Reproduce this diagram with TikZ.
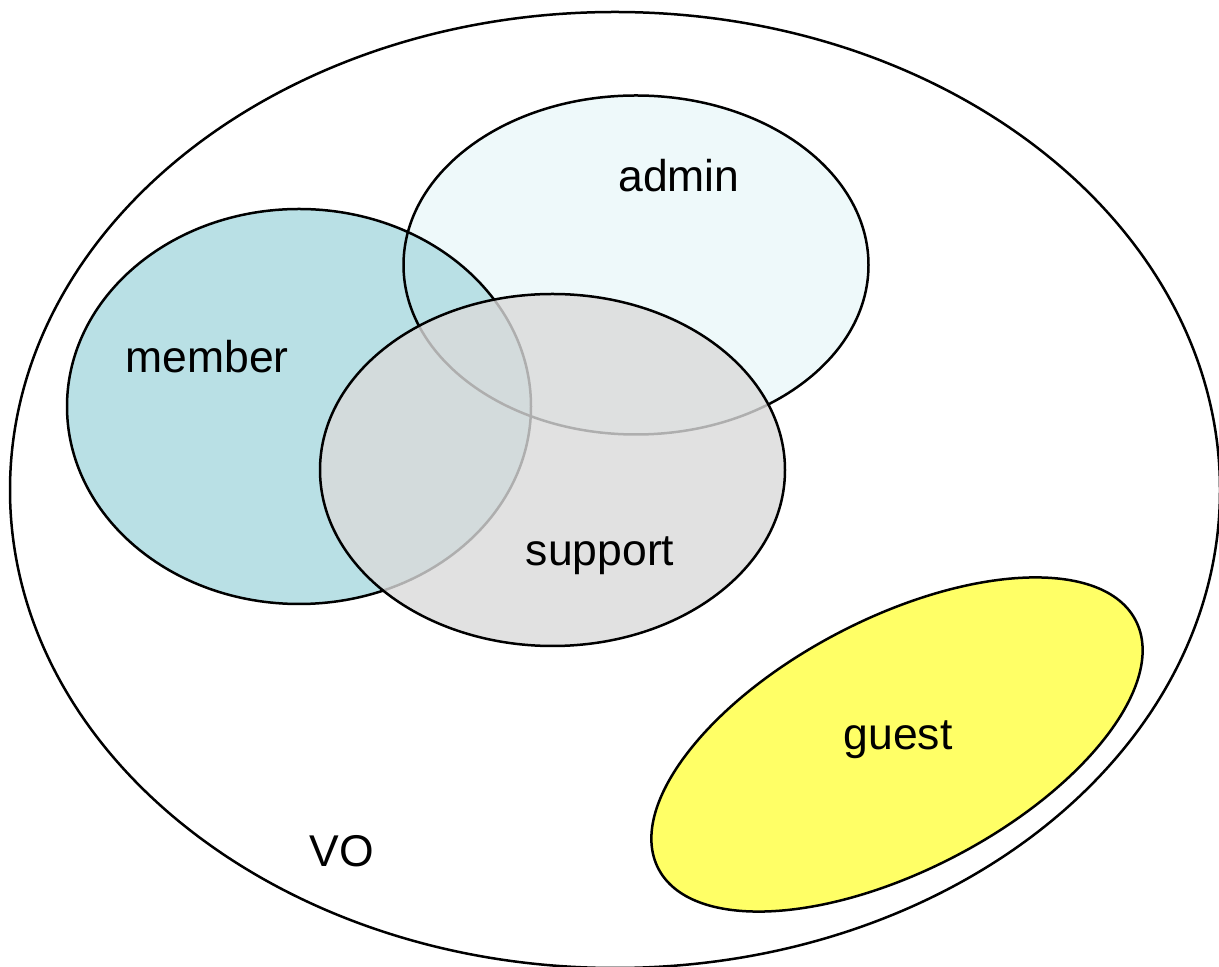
\documentclass[tikz,border=0pt]{standalone}
\usepackage{fontspec}
\setmainfont{Liberation Sans}
\definecolor{memberfill}{RGB}{185,224,229}
\definecolor{adminfill}{RGB}{238,249,250}
\definecolor{supportfill}{RGB}{218,218,218}
\definecolor{guestfill}{RGB}{255,255,102}
\begin{document}
\begin{tikzpicture}[x=1pt,y=1pt,
  setline/.style={line width=2.5pt,draw=black},
  setlabel/.style={inner sep=0pt,anchor=center,font=\fontsize{44.5}{52}\selectfont}]
\useasboundingbox (0,0) rectangle (1219,967);
% outer set
\draw[setline] (615,477) ellipse [x radius=605, y radius=478];
% admin and member fills, then their outlines
\fill[adminfill] (636,702) ellipse [x radius=232.5, y radius=169.5];
\fill[memberfill] (299,560.5) ellipse [x radius=232, y radius=197.5];
\draw[setline] (636,702) ellipse [x radius=232.5, y radius=169.5];
\draw[setline] (299,560.5) ellipse [x radius=232, y radius=197.5];
% support, translucent over the other two
\fill[supportfill,fill opacity=0.8] (552.5,497) ellipse [x radius=232.5, y radius=176];
\draw[setline] (552.5,497) ellipse [x radius=232.5, y radius=176];
% guest
\draw[setline,fill=guestfill,rotate around={27.5:(897,222.5)}] (897,222.5) ellipse [x radius=269, y radius=126];
% labels
\node[setlabel] (admin) at (679,791) {admin};
\node[setlabel] (member) at (207,610) {member};
\node[setlabel] (support) at (600,411) {support};
\node[setlabel] (guest) at (898,227) {guest};
\node[setlabel] (vo) at (342,116) {VO};
\end{tikzpicture}
\end{document}
